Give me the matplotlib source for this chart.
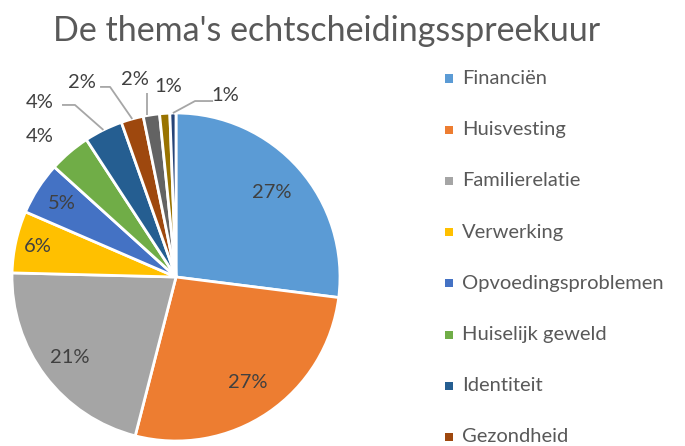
import matplotlib
matplotlib.use("Agg")
import matplotlib.pyplot as plt
import numpy as np
from matplotlib.patches import Rectangle

# data (share per theme, in %)
themes = ["Financiën", "Huisvesting", "Familierelatie", "Verwerking",
          "Opvoedingsproblemen", "Huiselijk geweld", "Identiteit", "Gezondheid",
          "", "", ""]
shares = [27.0, 27.0, 21.4, 6.1, 5.2, 4.1, 3.8, 2.2, 1.6, 1.0, 0.6]
colors = ["#5B9BD5", "#ED7D31", "#A5A5A5", "#FFC000", "#4472C4", "#70AD47",
          "#255E91", "#9E480E", "#636363", "#997300", "#264478"]
n_legend = 8  # only these fit on the canvas

TXT = "#595959"
LBL = "#404040"
FONT = "Lato"
plt.rcParams["font.family"] = [FONT, "DejaVu Sans"]

W, H = 685, 446
fig = plt.figure(figsize=(W / 100, H / 100), dpi=100)

cx, cy, r = 176, 277, 164
ax = fig.add_axes([(cx - r) / W, (H - cy - r) / H, 2 * r / W, 2 * r / H])
wedges, _ = ax.pie(shares, colors=colors, startangle=90, counterclock=False,
                   radius=1.0, wedgeprops=dict(edgecolor="white", linewidth=2))
ax.set_xlim(-1, 1)
ax.set_ylim(-1, 1)
ax.axis("off")

total = sum(shares)
pct = [f"{int(v / total * 100 + 0.5)}%" for v in shares]

# inside labels: radial distance per slice
inside = {0: 0.78, 1: 0.78, 2: 0.81, 3: 0.86, 4: 0.83}
for i, d in inside.items():
    w = wedges[i]
    a = np.deg2rad((w.theta1 + w.theta2) / 2)
    ax.text(d * np.cos(a), d * np.sin(a), pct[i], ha="center", va="center",
            fontsize=14.5, color=LBL)

# outside labels: position (axis units) and leader-line elbows
outside = {
    5: ((-0.829, 0.854), []),
    6: ((-0.829, 1.067), [(-0.695, 1.049), (-0.616, 1.049)]),
    7: ((-0.573, 1.189), [(-0.463, 1.159), (-0.402, 1.159)]),
    8: ((-0.250, 1.207), [(-0.177, 1.122)]),
    9: ((-0.049, 1.159), []),
    10: ((0.299, 1.104), [(0.226, 1.073), (0.116, 1.073)]),
}
for i, (pos, elbows) in outside.items():
    ax.text(pos[0], pos[1], pct[i], ha="center", va="center",
            fontsize=14.5, color=LBL, clip_on=False)
    if elbows:
        w = wedges[i]
        a = np.deg2rad((w.theta1 + w.theta2) / 2)
        end = (1.0 * np.cos(a), 1.0 * np.sin(a))
        if len(elbows) == 1:
            end = (elbows[0][0], end[1])
        pts = elbows + [end]
        ax.plot([p[0] for p in pts], [p[1] for p in pts], color="#A6A6A6",
                lw=1.3, clip_on=False, solid_capstyle="butt")

# title
fig.text(327 / W, 1 - 31 / H, "De thema's echtscheidingsspreekuur",
         ha="center", va="center", fontsize=24.5, color=TXT)

# legend
y0, step = 78.5, 51.2
for i in range(n_legend):
    y = y0 + i * step
    fig.patches.append(Rectangle((445 / W, 1 - (y + 4) / H), 8 / W, 8 / H,
                                 transform=fig.transFigure, facecolor=colors[i],
                                 edgecolor="none"))
    fig.text(462 / W, 1 - y / H, themes[i], ha="left", va="center",
             fontsize=14.5, color=TXT)

fig.savefig("out.png", dpi=100)
